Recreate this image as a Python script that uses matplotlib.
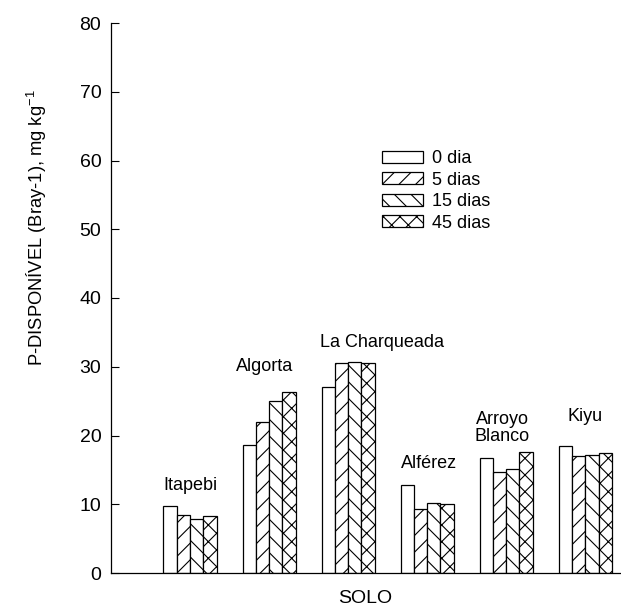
import matplotlib
matplotlib.use("Agg")
import matplotlib.pyplot as plt
import numpy as np

DPI = 100

plt.rcParams['font.family'] = ['Liberation Sans', 'DejaVu Sans']
plt.rcParams['mathtext.fontset'] = 'custom'
plt.rcParams['mathtext.rm'] = 'Liberation Sans'
plt.rcParams['mathtext.it'] = 'Liberation Sans'
plt.rcParams['hatch.linewidth'] = 0.8

soils = ["Itapebi", "Algorta", "La Charqueada", "Alférez", "Arroyo\nBlanco", "Kiyu"]
series = ["0 dia", "5 dias", "15 dias", "45 dias"]
d0 = [9.8, 18.6, 27.1, 12.8, 16.7, 18.5]
d5 = [8.4, 21.9, 30.5, 9.3, 14.7, 17.0]
d15 = [7.9, 25.0, 30.7, 10.2, 15.1, 17.1]
d45 = [8.3, 26.4, 30.5, 10.0, 17.6, 17.5]
label_pos = [(0.0, 12.7), (0.94, 30.0), (2.43, 33.5), (3.02, 16.0), (3.95, 21.1), (5.0, 22.8)]
yticks = [0, 10, 20, 30, 40, 50, 60, 70, 80]

fig = plt.figure(figsize=(621 / DPI, 609 / DPI), dpi=DPI)
ax = fig.add_axes([111/621, 36/609, 509/621, 550/609])

x = np.arange(len(soils))
w = 0.168
hatches = [None, '//', '\\\\', 'xx']
data = [d0, d5, d15, d45]
for i, (vals, h, lab) in enumerate(zip(data, hatches, series)):
    ax.bar(x + (i - 1.5) * w, vals, width=w, facecolor='white', edgecolor='black',
           linewidth=0.9, hatch=h, label=lab)

for name, (px, py) in zip(soils, label_pos):
    ax.text(px, py, name, ha='center', va='center', fontsize=13, linespacing=1.0)

ax.set_xlim(-1.0, 5.44)
ax.set_ylim(0, 80)
ax.set_yticks(yticks)
ax.set_xticks([])
ax.tick_params(axis='y', direction='in', length=5.5, width=0.8,
               labelsize=14, pad=7)
ax.spines['top'].set_visible(False)
ax.spines['right'].set_visible(False)
ax.spines['left'].set_linewidth(0.9)
ax.spines['bottom'].set_linewidth(0.9)

ax.set_ylabel("P-DISPONÍVEL (Bray-1), mg kg$^{-1}$", fontsize=13.2)
ax.yaxis.set_label_coords(-0.122, 0.627)
ax.set_xlabel("SOLO", fontsize=14, labelpad=12)

leg = ax.legend(loc='upper left', bbox_to_anchor=(0.532, 0.769), frameon=False,
                fontsize=13, handlelength=2.28, handleheight=0.67,
                handletextpad=0.5, labelspacing=0.25, borderaxespad=0, borderpad=0)

fig.savefig("out.png", dpi=DPI)
